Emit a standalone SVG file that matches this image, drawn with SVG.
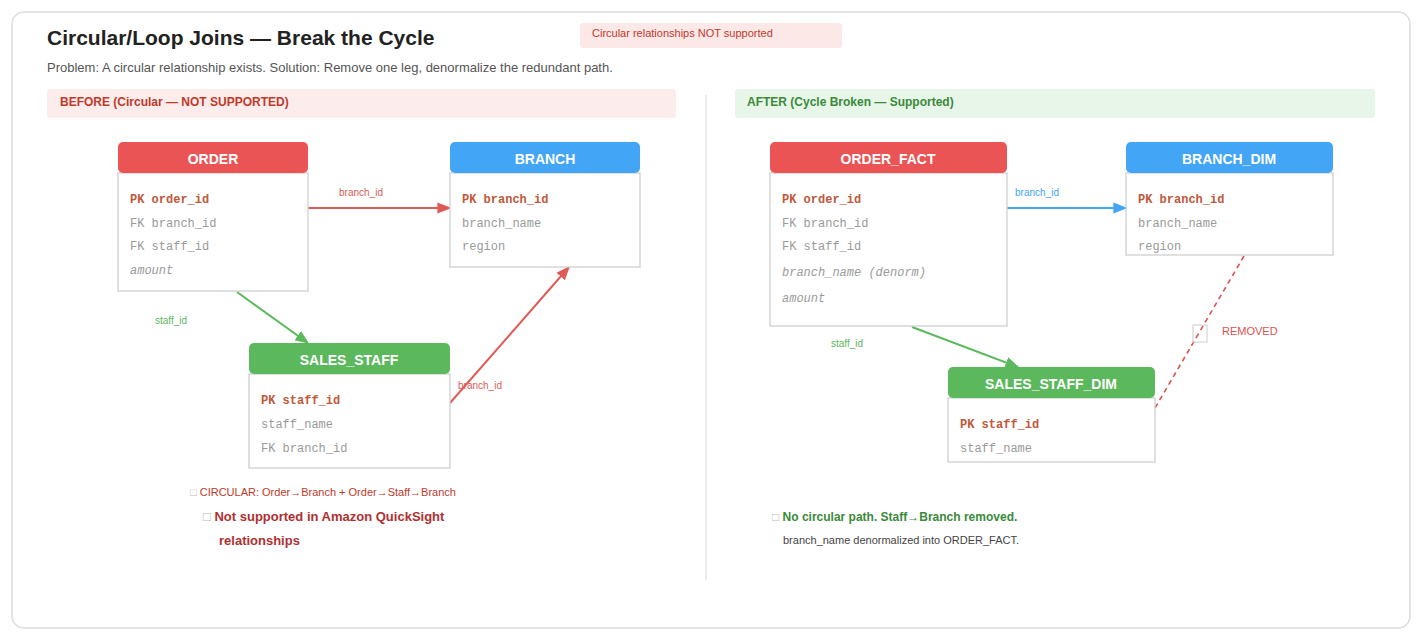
<svg xmlns="http://www.w3.org/2000/svg" width="1426" height="644" viewBox="0 0 1426 644">
<style>
.s{font-family:"Liberation Sans",Arial,sans-serif}
.m{font-family:"Liberation Mono","Courier New",monospace;font-size:12px;fill:#9a9a9a}
.pk{font-weight:bold;fill:#c0583a}
.it{font-style:italic}
.hd{font-family:"Liberation Sans",Arial,sans-serif;font-size:14px;font-weight:bold;fill:#fff;text-anchor:middle}
.body{fill:#fff;stroke:#cfcfcf;stroke-width:1.3}
.lbl{font-family:"Liberation Sans",Arial,sans-serif;font-size:10px}
</style>
<defs>
<marker id="ar" viewBox="0 0 10 10" refX="9" refY="5" markerWidth="7" markerHeight="7" orient="auto"><path d="M0,1 L10,5 L0,9z" fill="#e05a55"/></marker>
<marker id="ag" viewBox="0 0 10 10" refX="9" refY="5" markerWidth="7" markerHeight="7" orient="auto"><path d="M0,1 L10,5 L0,9z" fill="#5cb85c"/></marker>
<marker id="ab" viewBox="0 0 10 10" refX="9" refY="5" markerWidth="7" markerHeight="7" orient="auto"><path d="M0,1 L10,5 L0,9z" fill="#42a5f5"/></marker>
</defs>
<rect width="1426" height="644" fill="#fff"/>
<rect x="12" y="12" width="1398" height="616" rx="12" fill="#fff" stroke="#dcdcdc" stroke-width="1.5"/>
<text x="47" y="45" class="s" font-size="21" font-weight="bold" fill="#222">Circular/Loop Joins — Break the Cycle</text>
<text x="47" y="72" class="s" font-size="13" fill="#555">Problem: A circular relationship exists. Solution: Remove one leg, denormalize the redundant path.</text>
<rect x="580" y="23" width="262" height="25" rx="3" fill="#fde8e8"/>
<text x="592" y="37" class="s" font-size="11" fill="#c0392b">Circular relationships NOT supported</text>
<rect x="47" y="89" width="629" height="29" rx="3" fill="#fdecec"/>
<text x="60" y="106" class="s" font-size="12" font-weight="bold" fill="#c0392b">BEFORE (Circular — NOT SUPPORTED)</text>
<rect x="735" y="89" width="640" height="29" rx="3" fill="#e8f5e9"/>
<text x="747" y="106" class="s" font-size="12" font-weight="bold" fill="#3a8a3a">AFTER (Cycle Broken — Supported)</text>
<line x1="706" y1="95" x2="706" y2="580" stroke="#e0e0e0" stroke-width="1.3"/>

<g id="connectors">
<line x1="308" y1="208" x2="450" y2="208" stroke="#e05a55" stroke-width="2" marker-end="url(#ar)"/>
<text x="361" y="196" class="lbl" fill="#e05a55" text-anchor="middle">branch_id</text>
<line x1="237" y1="292" x2="308" y2="343" stroke="#5cb85c" stroke-width="2" marker-end="url(#ag)"/>
<text x="171" y="324" class="lbl" fill="#5cb85c" text-anchor="middle">staff_id</text>
<line x1="450" y1="403" x2="569" y2="267" stroke="#e05a55" stroke-width="2" marker-end="url(#ar)"/>
<text x="480" y="389" class="lbl" fill="#e05a55" text-anchor="middle">branch_id</text>
<line x1="1007" y1="208" x2="1126" y2="208" stroke="#42a5f5" stroke-width="2" marker-end="url(#ab)"/>
<text x="1037" y="196" class="lbl" fill="#42a5f5" text-anchor="middle">branch_id</text>
<line x1="912" y1="327" x2="1018" y2="367" stroke="#5cb85c" stroke-width="2" marker-end="url(#ag)"/>
<text x="847" y="347" class="lbl" fill="#5cb85c" text-anchor="middle">staff_id</text>
<line x1="1244" y1="256" x2="1155" y2="408" stroke="#d9534f" stroke-width="1.6" stroke-dasharray="5,4"/>
<rect x="1193" y="325" width="14" height="17" fill="none" stroke="#ccc"/>
<text x="1222" y="335" class="s" font-size="11" fill="#d9534f">REMOVED</text>
</g>

<g id="order">
<rect x="118" y="173" width="190" height="118" class="body"/>
<rect x="118" y="142" width="190" height="31" rx="5" fill="#ea5455"/>
<text x="213" y="164" class="hd">ORDER</text>
<text x="130" y="203" class="m pk">PK order_id</text>
<text x="130" y="227" class="m">FK branch_id</text>
<text x="130" y="250" class="m">FK staff_id</text>
<text x="130" y="274" class="m it">amount</text>
</g>
<g id="branch">
<rect x="450" y="173" width="190" height="94" class="body"/>
<rect x="450" y="142" width="190" height="31" rx="5" fill="#42a5f5"/>
<text x="545" y="164" class="hd">BRANCH</text>
<text x="462" y="203" class="m pk">PK branch_id</text>
<text x="462" y="227" class="m">branch_name</text>
<text x="462" y="250" class="m">region</text>
</g>
<g id="sales_staff">
<rect x="249" y="374" width="201" height="94" class="body"/>
<rect x="249" y="343" width="201" height="31" rx="5" fill="#5cb85c"/>
<text x="349" y="365" class="hd">SALES_STAFF</text>
<text x="261" y="404" class="m pk">PK staff_id</text>
<text x="261" y="428" class="m">staff_name</text>
<text x="261" y="452" class="m">FK branch_id</text>
</g>
<g id="before-notes">
<text x="190" y="496" class="s" font-size="11" fill="#c0392b"><tspan fill="#bbb">□</tspan> CIRCULAR: Order→Branch + Order→Staff→Branch</text>
<text x="203" y="521" class="s" font-size="13" font-weight="bold" fill="#b03030"><tspan fill="#bbb" font-weight="normal">□</tspan>  Not supported in Amazon QuickSight</text>
<text x="219" y="545" class="s" font-size="13" font-weight="bold" fill="#b03030">relationships</text>
</g>

<g id="order_fact">
<rect x="770" y="173" width="237" height="153" class="body"/>
<rect x="770" y="142" width="237" height="31" rx="5" fill="#ea5455"/>
<text x="888" y="164" class="hd">ORDER_FACT</text>
<text x="782" y="203" class="m pk">PK order_id</text>
<text x="782" y="227" class="m">FK branch_id</text>
<text x="782" y="250" class="m">FK staff_id</text>
<text x="782" y="276" class="m it" fill="#888">branch_name (denorm)</text>
<text x="782" y="302" class="m it">amount</text>
</g>
<g id="branch_dim">
<rect x="1126" y="173" width="207" height="82" class="body"/>
<rect x="1126" y="142" width="207" height="31" rx="5" fill="#42a5f5"/>
<text x="1229" y="164" class="hd">BRANCH_DIM</text>
<text x="1138" y="203" class="m pk">PK branch_id</text>
<text x="1138" y="227" class="m">branch_name</text>
<text x="1138" y="250" class="m">region</text>
</g>
<g id="sales_staff_dim">
<rect x="948" y="398" width="207" height="64" class="body"/>
<rect x="948" y="367" width="207" height="31" rx="5" fill="#5cb85c"/>
<text x="1051" y="389" class="hd">SALES_STAFF_DIM</text>
<text x="960" y="428" class="m pk">PK staff_id</text>
<text x="960" y="452" class="m">staff_name</text>
</g>
<g id="after-notes">
<text x="772" y="521" class="s" font-size="12" font-weight="bold" fill="#3a8a3a"><tspan fill="#bbb" font-weight="normal">□</tspan>  No circular path. Staff→Branch removed.</text>
<text x="783" y="544" class="s" font-size="11" fill="#444">branch_name denormalized into ORDER_FACT.</text>
</g>
</svg>
